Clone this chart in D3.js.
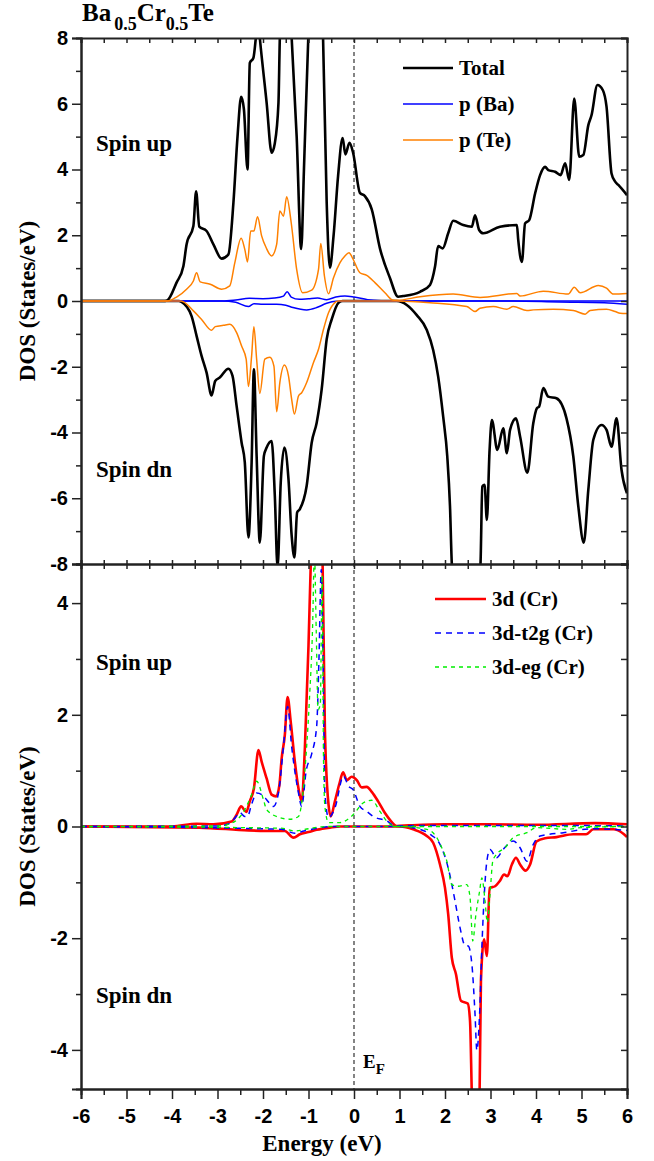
<!DOCTYPE html>
<html>
<head>
  <meta charset="utf-8">
  <title>DOS Ba0.5Cr0.5Te</title>
  <style type="text/css">
    body { margin: 0; background: #fff; }
    svg { display: block; }
    .tick text { font-family: "Liberation Sans", Arial, sans-serif; font-weight: bold; font-size: 20px; fill: #000; }
    .lbl { font-family: "Liberation Serif", "Times New Roman", serif; font-weight: bold; fill: #000; }
  </style>
</head>
<body>
  <div id="chart"></div>
  <script src="https://cdn.jsdelivr.net/npm/d3@7"></script>
  <script type="text/javascript">
    // x range and tick labels
    var energyTicks = [-6, -5, -4, -3, -2, -1, 0, 1, 2, 3, 4, 5, 6];
    var topTicks = [-8, -6, -4, -2, 0, 2, 4, 6, 8];
    var botTicks = [-4, -2, 0, 2, 4];

    // top panel: [energy, DOS]
    var totalUp = [[-6,0],[-4.15,0],[-4.1,0.02],[-3.9,0.56],[-3.75,1.06],[-3.68,1.72],[-3.53,2.28],[-3.47,3.34],[-3.40,2.26],[-3.24,2.13],[-3.09,1.72],[-2.91,1.29],[-2.76,1.42],[-2.65,2.99],[-2.56,5.0],[-2.48,6.21],[-2.42,5.84],[-2.34,4.0],[-2.29,7.24],[-2.21,7.4],[-2.15,8.1],[-2.11,8.6],[-2.07,8.0],[-1.92,6.03],[-1.81,4.51],[-1.74,4.8],[-1.66,6.03],[-1.63,8],[-1.5,11],[-1.37,8],[-1.26,5.0],[-1.16,1.58],[-1.10,4.0],[-1.0,8.2],[-0.85,12],[-0.68,8],[-0.60,2.99],[-0.53,1.01],[-0.45,1.97],[-0.35,3.8],[-0.25,4.96],[-0.19,4.46],[-0.10,4.81],[-0.02,4.51],[0.13,3.29],[0.24,3.19],[0.39,2.79],[0.57,1.6],[0.79,0.7],[0.97,0.13],[1.08,0.15],[1.45,0.28],[1.67,0.49],[1.78,1.04],[1.85,1.67],[1.95,1.6],[2.07,2.06],[2.18,2.44],[2.40,2.31],[2.59,2.26],[2.66,2.61],[2.75,2.16],[2.84,2.06],[3.21,2.26],[3.58,2.31],[3.61,1.85],[3.69,1.19],[3.76,2.36],[3.85,2.46],[3.98,3.27],[4.09,3.83],[4.20,4.08],[4.27,3.98],[4.42,3.93],[4.54,3.83],[4.64,4.19],[4.73,3.68],[4.84,6.16],[4.95,4.39],[5.04,4.44],[5.15,5.35],[5.22,5.65],[5.35,6.57],[5.47,6.41],[5.55,5.91],[5.66,3.88],[5.74,3.63],[5.81,3.53],[6,3.22]];
    var totalDn = [[-6,0],[-3.85,0],[-3.79,-0.03],[-3.57,-0.46],[-3.46,-1.06],[-3.35,-1.67],[-3.24,-2.18],[-3.13,-2.87],[-3.05,-2.43],[-2.95,-2.33],[-2.76,-2.06],[-2.67,-2.28],[-2.58,-3.19],[-2.47,-4.31],[-2.40,-4.91],[-2.32,-7.19],[-2.25,-4.91],[-2.20,-2.08],[-2.14,-4.71],[-2.07,-7.35],[-1.98,-4.71],[-1.92,-4.46],[-1.81,-4.26],[-1.74,-5.93],[-1.68,-8.1],[-1.61,-5.52],[-1.53,-4.46],[-1.44,-5.42],[-1.37,-7.14],[-1.31,-7.80],[-1.25,-6.43],[-1.19,-6.33],[-1.04,-5.62],[-0.93,-4.31],[-0.82,-3.70],[-0.71,-2.68],[-0.60,-1.16],[-0.49,-0.56],[-0.34,-0.05],[-0.25,0],[0.94,0],[1.16,-0.12],[1.38,-0.43],[1.60,-0.88],[1.74,-1.49],[1.85,-2.30],[1.96,-3.52],[2.05,-4.73],[2.11,-6.25],[2.15,-8.0],[2.3,-10],[2.6,-10.5],[2.78,-8.0],[2.82,-5.64],[2.87,-5.59],[2.92,-6.66],[2.98,-4.53],[3.03,-3.62],[3.15,-4.53],[3.28,-3.87],[3.36,-4.63],[3.43,-3.92],[3.56,-3.57],[3.65,-4.12],[3.81,-5.22],[3.94,-3.72],[4.02,-3.26],[4.07,-3.21],[4.16,-2.65],[4.27,-2.91],[4.45,-2.96],[4.67,-3.57],[4.82,-4.73],[4.93,-6.25],[5.05,-7.35],[5.15,-5.74],[5.26,-4.22],[5.44,-3.77],[5.55,-3.92],[5.66,-4.43],[5.77,-3.57],[5.88,-5.14],[6,-5.85]];
    var baUp = [[-6,0],[-2.9,0],[-2.6,0.03],[-2.3,0.08],[-2.0,0.07],[-1.75,0.09],[-1.55,0.15],[-1.47,0.28],[-1.38,0.12],[-1.2,0.05],[-1.0,0.07],[-0.8,0.09],[-0.6,0.04],[-0.4,0.12],[-0.2,0.15],[0.0,0.12],[0.3,0.04],[0.6,0.01],[1.0,0],[6,0]];
    var baDn = [[-6,0],[-2.9,0],[-2.6,-0.04],[-2.32,-0.17],[-2.2,-0.08],[-2.0,-0.1],[-1.7,-0.1],[-1.5,-0.13],[-1.34,-0.2],[-1.04,-0.27],[-0.82,-0.2],[-0.6,-0.07],[-0.4,-0.01],[0,0],[3.5,0],[4.5,-0.03],[5.5,-0.05],[6,-0.1]];
    var teUp = [[-6,0],[-4.1,0],[-3.9,0.12],[-3.68,0.36],[-3.53,0.61],[-3.46,0.86],[-3.38,0.58],[-3.16,0.51],[-2.91,0.36],[-2.73,0.46],[-2.62,1.16],[-2.48,1.91],[-2.40,1.57],[-2.34,1.19],[-2.27,2.13],[-2.20,2.13],[-2.12,2.56],[-2.03,1.98],[-1.93,1.62],[-1.81,1.37],[-1.70,1.72],[-1.63,2.74],[-1.55,2.58],[-1.48,3.17],[-1.38,2.38],[-1.26,0.96],[-1.13,0.25],[-0.93,0.33],[-0.78,0.96],[-0.73,1.75],[-0.65,0.76],[-0.56,0.22],[-0.45,0.71],[-0.31,1.16],[-0.20,1.37],[-0.11,1.47],[-0.02,1.27],[0.13,0.86],[0.28,0.78],[0.46,0.56],[0.68,0.25],[0.85,0.03],[0.94,0.02],[1.45,0.13],[2.18,0.21],[2.77,0.11],[3.58,0.23],[3.65,0.15],[4.16,0.30],[4.71,0.21],[4.84,0.42],[4.97,0.25],[5.37,0.47],[5.55,0.39],[5.70,0.21],[6,0.23]];
    var teDn = [[-6,0],[-3.8,0],[-3.53,-0.30],[-3.35,-0.56],[-3.13,-0.89],[-3.05,-0.78],[-2.87,-0.74],[-2.73,-0.71],[-2.58,-0.96],[-2.47,-1.37],[-2.37,-1.77],[-2.32,-2.60],[-2.25,-1.67],[-2.20,-0.78],[-2.14,-1.77],[-2.07,-2.81],[-1.96,-1.77],[-1.85,-1.71],[-1.76,-1.98],[-1.70,-3.37],[-1.63,-2.48],[-1.53,-1.95],[-1.44,-2.28],[-1.37,-2.99],[-1.31,-3.44],[-1.22,-2.89],[-1.15,-2.79],[-1.04,-2.48],[-0.89,-1.87],[-0.78,-1.47],[-0.67,-0.86],[-0.56,-0.36],[-0.42,-0.05],[-0.35,0],[0.94,0],[1.67,-0.05],[2.48,-0.17],[2.66,-0.32],[2.77,-0.22],[3.06,-0.17],[3.36,-0.25],[3.50,-0.17],[3.80,-0.29],[3.94,-0.27],[4.38,-0.25],[4.82,-0.29],[5.08,-0.40],[5.19,-0.29],[5.55,-0.25],[5.74,-0.32],[5.85,-0.37],[6,-0.38]];

    // bottom panel: Cr 3d
    var d3Up = [[-6,0],[-4.0,0],[-3.46,0.05],[-3.09,0.04],[-2.69,0.09],[-2.58,0.21],[-2.48,0.36],[-2.37,0.26],[-2.29,0.45],[-2.20,0.68],[-2.10,1.37],[-2.03,1.16],[-1.92,0.86],[-1.81,0.57],[-1.71,0.54],[-1.64,0.74],[-1.59,1.22],[-1.52,1.64],[-1.46,2.32],[-1.39,1.87],[-1.30,1.16],[-1.22,0.68],[-1.15,0.45],[-1.08,1.40],[-1.00,3.24],[-0.95,4.7],[-0.82,7.0],[-0.69,4.7],[-0.64,1.76],[-0.56,0.39],[-0.51,0.18],[-0.42,0.45],[-0.32,0.77],[-0.24,0.97],[-0.16,0.83],[-0.05,0.89],[0.06,0.83],[0.17,0.70],[0.28,0.71],[0.39,0.62],[0.53,0.45],[0.68,0.24],[0.79,0.12],[0.94,0.01],[1.2,0.02],[2,0.04],[3,0.04],[4,0.03],[5.3,0.06],[6,0.04]];
    var d3Dn = [[-6,0],[-3.4,-0.02],[-2.32,-0.07],[-1.70,-0.08],[-1.52,-0.08],[-1.33,-0.20],[-1.19,-0.14],[-1.0,-0.1],[-0.82,-0.06],[-0.53,-0.02],[-0.3,0],[1.01,0],[1.30,-0.05],[1.60,-0.17],[1.74,-0.29],[1.89,-0.68],[2.00,-1.10],[2.07,-1.57],[2.15,-2.35],[2.24,-2.64],[2.35,-3.12],[2.50,-3.17],[2.55,-3.48],[2.59,-4.8],[2.67,-6.5],[2.76,-4.8],[2.79,-2.76],[2.86,-2.02],[2.92,-2.32],[2.98,-1.10],[3.10,-1.07],[3.20,-0.98],[3.30,-0.86],[3.37,-0.89],[3.47,-0.68],[3.56,-0.56],[3.65,-0.68],[3.77,-0.79],[3.87,-0.68],[4.01,-0.27],[4.20,-0.21],[4.45,-0.19],[4.82,-0.14],[5.10,-0.14],[5.26,-0.05],[5.70,-0.05],[5.92,-0.13],[6,-0.19]];
    var t2gUp = [[-6,0],[-3.0,0.01],[-2.75,0.05],[-2.62,0.15],[-2.51,0.25],[-2.40,0.18],[-2.34,0.18],[-2.25,0.40],[-2.14,0.60],[-1.99,0.55],[-1.92,0.48],[-1.77,0.36],[-1.66,0.60],[-1.55,1.43],[-1.46,2.15],[-1.37,1.43],[-1.22,0.60],[-1.15,0.36],[-1.05,1.0],[-0.93,1.3],[-0.82,1.8],[-0.77,3.0],[-0.72,4.6],[-0.68,3.0],[-0.64,0.6],[-0.56,0.16],[-0.42,0.33],[-0.23,0.90],[-0.12,0.72],[-0.02,0.66],[0.13,0.36],[0.28,0.27],[0.42,0.18],[0.72,0.10],[0.90,0.01],[1.5,0.02],[4,0.02],[6,0.01]];
    var t2gDn = [[-6,0],[-1.6,-0.05],[-1.3,-0.12],[-1.1,-0.08],[-0.8,-0.03],[-0.5,0],[1.01,0],[1.45,-0.05],[1.67,-0.14],[1.89,-0.32],[2.07,-0.74],[2.22,-1.33],[2.33,-1.81],[2.44,-2.13],[2.51,-2.14],[2.59,-2.46],[2.66,-3.36],[2.70,-4.01],[2.76,-3.36],[2.81,-2.17],[2.86,-1.27],[2.92,-0.62],[2.99,-0.41],[3.13,-0.56],[3.28,-0.41],[3.50,-0.26],[3.65,-0.38],[3.80,-0.62],[3.94,-0.32],[4.09,-0.17],[4.60,-0.11],[5.26,-0.04],[5.63,-0.05],[6,-0.07]];
    var egUp = [[-6,0],[-3.0,0.01],[-2.80,0.03],[-2.47,0.21],[-2.25,0.57],[-2.14,0.81],[-1.99,0.48],[-1.92,0.30],[-1.63,0.16],[-1.41,0.13],[-1.22,0.18],[-1.15,0.42],[-1.05,1.32],[-0.98,2.27],[-0.91,3.58],[-0.87,4.9],[-0.83,3.5],[-0.79,2.09],[-0.74,2.2],[-0.70,4.5],[-0.67,1.2],[-0.64,0.36],[-0.56,0.07],[-0.31,0.07],[-0.02,0.21],[0.20,0.42],[0.39,0.47],[0.57,0.27],[0.75,0.07],[0.9,0],[6,0]];
    var egDn = [[-6,0],[-1.6,-0.03],[-1.3,-0.08],[-1.0,-0.04],[-0.6,0],[1.01,0],[1.60,-0.05],[1.82,-0.2],[1.93,-0.38],[2.04,-0.62],[2.15,-1.04],[2.29,-1.07],[2.48,-1.04],[2.55,-1.27],[2.61,-2.05],[2.68,-1.57],[2.76,-1.16],[2.81,-0.92],[2.88,-1.33],[2.93,-1.72],[2.99,-1.21],[3.05,-0.62],[3.13,-0.5],[3.32,-0.38],[3.50,-0.2],[3.80,-0.11],[4.01,-0.02],[4.67,-0.05],[5.0,-0.02],[6,0]];

    var topLegend = ["Total", "p (Ba)", "p (Te)"];
    var botLegend = ["3d (Cr)", "3d-t2g (Cr)", "3d-eg (Cr)"];

    var W = 654, H = 1161,
      left = 81, right = 627,
      top1 = 38, mid = 564, bot2 = 1089;

    var svg = d3.select("#chart").append("svg")
      .attr("width", W)
      .attr("height", H);

    var x = d3.scaleLinear().domain([-6, 6]).range([left, right]);
    var y1 = d3.scaleLinear().domain([-8, 8]).range([mid, top1]);
    var y2 = d3.scaleLinear().domain([-4.7, 4.7]).range([bot2, mid]);

    var defs = svg.append("defs");
    defs.append("clipPath").attr("id", "clipTop").append("rect")
      .attr("x", left).attr("y", top1).attr("width", right - left).attr("height", mid - top1);
    defs.append("clipPath").attr("id", "clipBot").append("rect")
      .attr("x", left).attr("y", mid).attr("width", right - left).attr("height", bot2 - mid);

    // Fermi level
    svg.append("line")
      .attr("x1", x(0)).attr("x2", x(0))
      .attr("y1", top1).attr("y2", bot2)
      .attr("stroke", "#333").attr("stroke-width", 1.2)
      .attr("stroke-dasharray", "4,3");

    function drawLine(g, data, yScale, color, width, dash) {
      var line = d3.line()
        .x(function (d) { return x(d[0]); })
        .y(function (d) { return yScale(d[1]); })
        .curve(d3.curveMonotoneX);
      g.append("path")
        .datum(data)
        .attr("d", line)
        .attr("fill", "none")
        .attr("stroke", color)
        .attr("stroke-width", width)
        .attr("stroke-linejoin", "round")
        .attr("stroke-dasharray", dash || null);
    }

    var gTop = svg.append("g").attr("clip-path", "url(#clipTop)");
    drawLine(gTop, totalUp, y1, "#000", 2.6);
    drawLine(gTop, totalDn, y1, "#000", 2.6);
    drawLine(gTop, baUp, y1, "#0000ff", 1.5);
    drawLine(gTop, baDn, y1, "#0000ff", 1.5);
    drawLine(gTop, teUp, y1, "#ff8000", 1.5);
    drawLine(gTop, teDn, y1, "#ff8000", 1.5);

    var gBot = svg.append("g").attr("clip-path", "url(#clipBot)");
    drawLine(gBot, d3Up, y2, "#ff0000", 2.6);
    drawLine(gBot, d3Dn, y2, "#ff0000", 2.6);
    drawLine(gBot, t2gUp, y2, "#0000ff", 1.5, "6,5");
    drawLine(gBot, t2gDn, y2, "#0000ff", 1.5, "6,5");
    drawLine(gBot, egUp, y2, "#00ee00", 1.3, "4,4");
    drawLine(gBot, egDn, y2, "#00ee00", 1.3, "4,4");

    // axes
    function styleAxis(g) {
      g.select(".domain").attr("stroke", "#222").attr("stroke-width", 2);
      g.selectAll(".tick line").attr("stroke", "#222").attr("stroke-width", 1.5);
    }
    var plain = function (d) { return String(d); };
    var halfSteps = d3.range(-6, 6.01, 0.5);
    var minorX = halfSteps.filter(function (v) { return v % 1 !== 0; });

    // top panel
    svg.append("g").attr("transform", "translate(" + left + ",0)")
      .call(d3.axisLeft(y1).tickValues(topTicks).tickSize(9).tickPadding(4).tickFormat(plain))
      .call(styleAxis);
    svg.append("g").attr("transform", "translate(" + left + ",0)")
      .call(d3.axisLeft(y1).tickValues(d3.range(-7, 8, 2)).tickSize(5).tickFormat(""))
      .call(styleAxis);
    svg.append("g").attr("transform", "translate(" + right + ",0)")
      .call(d3.axisLeft(y1).tickValues(d3.range(-8, 9, 1)).tickSize(6).tickFormat(""))
      .call(styleAxis);
    svg.append("g").attr("transform", "translate(0," + top1 + ")")
      .call(d3.axisBottom(x).tickValues(halfSteps).tickSize(5).tickFormat(""))
      .call(styleAxis);
    svg.append("g").attr("transform", "translate(0," + mid + ")")
      .call(d3.axisTop(x).tickValues(halfSteps).tickSize(4).tickFormat(""))
      .call(styleAxis);

    // bottom panel
    svg.append("g").attr("transform", "translate(" + left + ",0)")
      .call(d3.axisLeft(y2).tickValues(botTicks).tickSize(9).tickPadding(4).tickFormat(plain))
      .call(styleAxis);
    svg.append("g").attr("transform", "translate(" + left + ",0)")
      .call(d3.axisLeft(y2).tickValues([-3, -1, 1, 3]).tickSize(5).tickFormat(""))
      .call(styleAxis);
    svg.append("g").attr("transform", "translate(" + right + ",0)")
      .call(d3.axisLeft(y2).tickValues(d3.range(-4, 5, 1)).tickSize(6).tickFormat(""))
      .call(styleAxis);
    svg.append("g").attr("transform", "translate(0," + mid + ")")
      .call(d3.axisBottom(x).tickValues(halfSteps).tickSize(5).tickFormat(""))
      .call(styleAxis);
    svg.append("g").attr("transform", "translate(0," + bot2 + ")")
      .call(d3.axisBottom(x).tickValues(energyTicks).tickSize(10).tickPadding(10).tickFormat(plain))
      .call(styleAxis);
    svg.append("g").attr("transform", "translate(0," + bot2 + ")")
      .call(d3.axisBottom(x).tickValues(minorX).tickSize(6).tickFormat(""))
      .call(styleAxis);

    // labels
    var title = svg.append("text").attr("class", "lbl").attr("x", 82).attr("y", 21).style("font-size", "25px");
    title.append("tspan").text("Ba");
    title.append("tspan").attr("dy", 9).attr("dx", 3).style("font-size", "18px").text("0.5");
    title.append("tspan").attr("dy", -9).text("Cr");
    title.append("tspan").attr("dy", 9).style("font-size", "18px").text("0.5");
    title.append("tspan").attr("dy", -9).text("Te");

    function label(txt, px, py, size) {
      return svg.append("text").attr("class", "lbl")
        .attr("x", px).attr("y", py).style("font-size", size + "px").text(txt);
    }
    label("Spin up", 96, 151, 23);
    label("Spin dn", 96, 477, 23);
    label("Spin up", 96, 670, 23);
    label("Spin dn", 96, 1003, 23);

    svg.append("text").attr("class", "lbl")
      .attr("transform", "translate(35," + y1(0) + ") rotate(-90)")
      .attr("text-anchor", "middle").style("font-size", "23px")
      .text("DOS (States/eV)");
    svg.append("text").attr("class", "lbl")
      .attr("transform", "translate(35," + y2(0) + ") rotate(-90)")
      .attr("text-anchor", "middle").style("font-size", "23px")
      .text("DOS (States/eV)");
    svg.append("text").attr("class", "lbl")
      .attr("x", 322).attr("y", 1151)
      .attr("text-anchor", "middle").style("font-size", "23px")
      .text("Energy (eV)");

    var ef = svg.append("text").attr("class", "lbl").attr("x", 363).attr("y", 1068).style("font-size", "19px");
    ef.append("tspan").text("E");
    ef.append("tspan").attr("dy", 6).style("font-size", "15px").text("F");

    // legends
    var topStyles = [["#000", 2.6, null], ["#0000ff", 1.5, null], ["#ff8000", 1.5, null]];
    topLegend.forEach(function (name, i) {
      var ly = 68 + i * 36;
      svg.append("line").attr("x1", 403).attr("x2", 453).attr("y1", ly).attr("y2", ly)
        .attr("stroke", topStyles[i][0]).attr("stroke-width", topStyles[i][1]);
      label(name, 459, ly + 7, 21);
    });
    var botStyles = [["#ff0000", 2.6, null], ["#0000ff", 1.5, "6,5"], ["#00ee00", 1.3, "4,4"]];
    botLegend.forEach(function (name, i) {
      var ly = 599 + i * 34;
      svg.append("line").attr("x1", 435).attr("x2", 486).attr("y1", ly).attr("y2", ly)
        .attr("stroke", botStyles[i][0]).attr("stroke-width", botStyles[i][1])
        .attr("stroke-dasharray", botStyles[i][2]);
      label(name, 492, ly + 7, 21);
    });
  </script>
</body>
</html>
